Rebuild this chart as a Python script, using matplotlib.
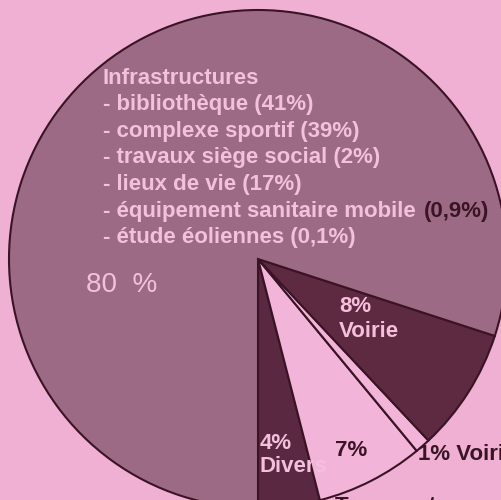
import matplotlib.pyplot as plt

# Répartition des dépenses (%)
categories = ["Divers", "Transport", "Voirie", "Voirie", "Infrastructures"]
parts = [4, 7, 1, 8, 80]
couleurs = ["#5a2840", "#f2b4d8", "#f2b4d8", "#5e2a42", "#9c6a84"]

details = [
    "Infrastructures",
    "- bibliothèque (41%)",
    "- complexe sportif (39%)",
    "- travaux siège social (2%)",
    "- lieux de vie (17%)",
    "- équipement sanitaire mobile",
    "- étude éoliennes (0,1%)",
]

fond = "#efb0d4"
texte_clair = "#f4c0dc"
texte_fonce = "#3a1424"

fig = plt.figure(figsize=(5.02, 5.0), dpi=100, facecolor=fond)
ax = fig.add_axes([0, 0, 1, 1])
ax.set_facecolor(fond)

# Camembert qui deborde du cadre
ax.pie(parts, colors=couleurs, startangle=-90, counterclock=True, radius=1,
       wedgeprops=dict(edgecolor="#3a1424", linewidth=1.5))
# pixel -> data : centre (258, 259), rayon 249 px
ax.set_xlim(-258 / 249, (502 - 258) / 249)
ax.set_ylim(-(500 - 259) / 249, 259 / 249)
ax.set_aspect("auto")
ax.axis("off")

police = dict(family="Liberation Sans", fontweight="bold", fontsize=16)

def px(x, y):
    return (x - 258) / 249, (259 - y) / 249

for i, ligne in enumerate(details):
    ax.text(*px(103, 78 + 26.6 * i), ligne, color=texte_clair, va="center", ha="left", **police)
ax.text(*px(424, 78 + 26.6 * 5), "(0,9%)", color=texte_fonce, va="center", ha="left", **police)

ax.text(*px(86, 285), "80  %", color=texte_clair, va="center", ha="left",
        family="Liberation Sans", fontsize=20)
ax.text(*px(339, 319), "8%\nVoirie", color=texte_clair, va="center", ha="left",
        linespacing=1.2, **police)
ax.text(*px(260, 455), "4%\nDivers", color=texte_clair, va="center", ha="left",
        linespacing=1.15, **police)
ax.text(*px(335, 450), "7%", color=texte_fonce, va="center", ha="left", **police)
ax.text(*px(418, 455), "1% Voirie", color=texte_fonce, va="center", ha="left", **police)
ax.text(*px(335, 496), "Transport", color=texte_fonce, va="top", ha="left", **police)

fig.savefig("out.png", dpi=100, facecolor=fond)
